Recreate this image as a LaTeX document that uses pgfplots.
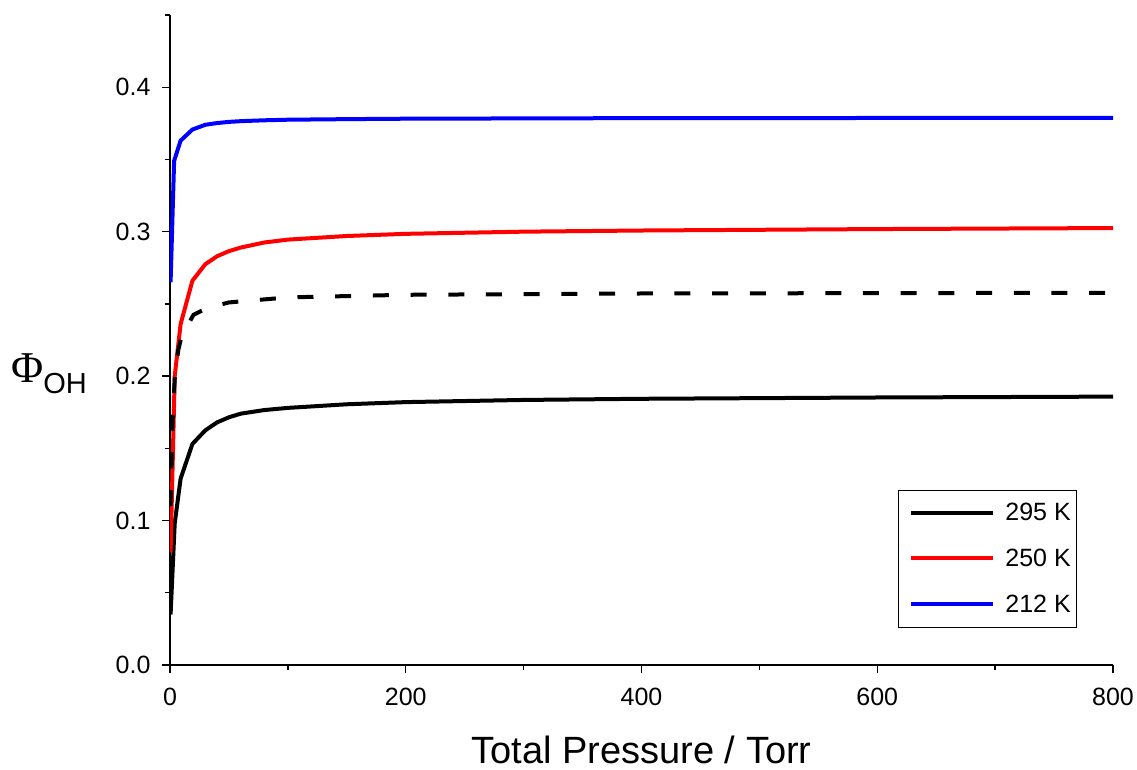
\documentclass[border=0pt]{standalone}
\usepackage{pgfplots}
\pgfplotsset{compat=1.18}
\usepackage{fontspec}
\setmainfont{Liberation Sans}
\newfontfamily\serifphi{Liberation Serif}
\begin{document}
\begin{tikzpicture}
\useasboundingbox (-170pt,-104pt) rectangle (967pt,665pt);
\begin{axis}[
  at={(0pt,0pt)}, anchor=south west,
  scale only axis, width=943pt, height=650pt,
  xmin=0, xmax=800, ymin=0, ymax=0.45,
  axis x line*=bottom, axis y line*=left,
  axis line style={line width=1.6pt, -},
  xtick={0,200,400,600,800},
  ytick={0,0.1,0.2,0.3,0.4},
  minor xtick={100,300,500,700},
  minor ytick={0.05,0.15,0.25,0.35,0.45},
  tick align=outside,
  major tick length=8pt, minor tick length=5pt,
  every tick/.style={line width=1.4pt, black},
  /pgf/number format/assume math mode=true,
  yticklabel style={/pgf/number format/fixed, /pgf/number format/fixed zerofill, /pgf/number format/precision=1, xshift=-8pt},
  xticklabel style={yshift=-12pt},
  scaled y ticks=false,
  tick label style={font=\fontsize{25}{29}\selectfont},
  xlabel={Total Pressure / Torr},
  xlabel style={at={(axis description cs:0.5,-0.1508)}, anchor=base, font=\fontsize{38}{42}\selectfont},
  ylabel={{\serifphi\fontsize{44}{48}\selectfont Φ}\raisebox{-11pt}{\fontsize{29}{32}\selectfont OH}},
  ylabel style={rotate=-90, at={(axis description cs:-0.1283,0.4477)}, anchor=center},
  legend style={at={(axis description cs:0.962,0.058)}, anchor=south east, draw=black, line width=0.8pt,
    font=\fontsize{25}{29}\selectfont, row sep=27pt, column sep=9pt, inner xsep=5pt, inner ysep=13pt,
    nodes={inner xsep=1pt, inner ysep=0pt}},
  legend cell align=left,
  legend image code/.code={\path (0pt,0pt); \draw[#1, line width=4pt] (6pt,0pt) -- (88pt,0pt);},
]
\addplot[black, line width=4pt] coordinates {
(0.5,0.035) (4,0.098) (9,0.129) (19,0.153) (30,0.1625) (40,0.168) (50,0.1715) (60,0.174) (80,0.1765) (100,0.178) (150,0.1805) (200,0.182) (300,0.1835) (400,0.1843) (600,0.1852) (800,0.1858)};
\addlegendentry{295 K}
\addplot[red, line width=4pt] coordinates {
(0.5,0.078) (4,0.200) (9,0.236) (19,0.266) (30,0.2775) (40,0.283) (50,0.2865) (60,0.289) (80,0.2925) (100,0.2945) (150,0.2970) (200,0.2985) (300,0.3000) (400,0.3008) (600,0.3018) (800,0.3025)};
\addlegendentry{250 K}
\addplot[blue, line width=4pt] coordinates {
(0.5,0.265) (3.5,0.349) (9,0.363) (19,0.3707) (30,0.374) (40,0.3752) (50,0.376) (60,0.3765) (80,0.3771) (100,0.3775) (150,0.3779) (200,0.3782) (300,0.3784) (400,0.3786) (600,0.3787) (800,0.3788)};
\addlegendentry{212 K}
\addplot[black, line width=4pt, dash pattern=on 16pt off 21.7pt, forget plot] coordinates {
(0.5,0.11) (2,0.165) (4,0.198) (7,0.218) (10,0.228) (20,0.2425) (32,0.2473) (50,0.251) (100,0.2545) (200,0.2563) (400,0.2572) (800,0.2577)};
\end{axis}
\end{tikzpicture}
\end{document}
